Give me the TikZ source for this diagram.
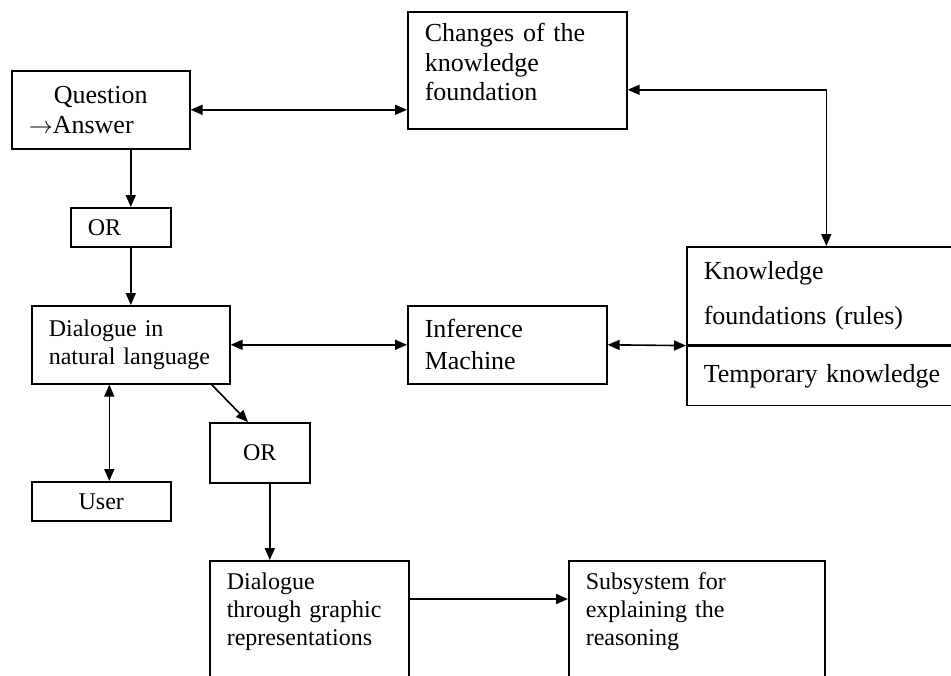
\documentclass[tikz,border=0pt]{standalone}
\usepackage{fontspec}
\setmainfont{Liberation Serif}
\usetikzlibrary{arrows.meta,positioning}
\tikzset{
  blk/.style={draw,rectangle,line width=0.8pt,inner xsep=8.5pt,inner ysep=3pt,align=left,anchor=north west,font=\fontsize{12}{14}\selectfont},
  bigblk/.style={blk,font=\fontsize{13}{14.75}\selectfont},
  midblk/.style={blk,align=center},
  arr/.style={-{Triangle[length=6pt,width=5pt]},line width=0.8pt},
  darr/.style={{Triangle[length=6pt,width=5pt]}-{Triangle[length=6pt,width=5pt]},line width=0.8pt}
}
\begin{document}
\begin{tikzpicture}[x=0.5pt,y=-0.5pt]
  \useasboundingbox (0,0) rectangle (951,675);
  \clip (0,0) rectangle (951,675);

  \node[bigblk,text width=72pt,minimum height=39pt] (qa) at (11,70) {\hspace*{12.5pt}Question\\$\rightarrow$Answer};
  \node[bigblk,text width=92.5pt,text height=12pt,text depth=40.5pt] (chg) at (407,11) {Changes of the\\knowledge\\foundation};
  \node[blk,text width=33pt,minimum height=19.5pt] (or1) at (70,207) {OR};
  \node[blk,text width=82pt,minimum height=39pt] (dnl) at (31,305) {Dialogue in\\natural language};
  \node[bigblk,text width=82.5pt,minimum height=39pt] (inf) at (407,305) {Inference\\[1.25pt]Machine};
  \node[bigblk,text width=122.5pt,minimum height=49pt] (kbtop) at (686,246) {Knowledge\\[7.75pt]foundations (rules)};
  \node[bigblk,text width=122.5pt,minimum height=29.5pt,below=0pt of kbtop] (kbbot) {Temporary knowledge};
  \node[midblk,text width=33pt,minimum height=30pt] (or2) at (209,422) {OR};
  \node[midblk,text width=52.5pt,minimum height=19.5pt] (usr) at (31,481) {User};
  \node[blk,text width=82.5pt,text height=11.5pt,text depth=70pt] (dgr) at (209,560) {Dialogue\\through graphic\\representations};
  \node[blk,text width=111pt,text height=11.5pt,text depth=70pt] (sub) at (568,560) {Subsystem for\\explaining the\\reasoning};

  \coordinate (uu) at ([xshift=4pt]usr.north);
  \coordinate (oo) at ([xshift=5pt]or2.south);

  \draw[darr] (qa.east) -- (qa.east -| chg.west);
  \draw[darr] ([yshift=-9.75pt]chg.east) -| (kbtop.north);
  \draw[arr] (qa.south -| dnl.north) -- (or1.north -| dnl.north);
  \draw[arr] (or1.south -| dnl.north) -- (dnl.north);
  \draw[darr] (dnl) -- (inf);
  \draw[darr] (inf.east) -- (kbtop.south west);
  \draw[arr] ([xshift=-9.5pt]dnl.south east) -- ([xshift=19.5pt]or2.north west);
  \draw[darr] (uu) -- (uu |- dnl.south);
  \draw[arr] (oo) -- (oo |- dgr.north);
  \draw[arr] ([yshift=-19.5pt]dgr.north east) -- ([yshift=-19.5pt]sub.north west);
\end{tikzpicture}
\end{document}
